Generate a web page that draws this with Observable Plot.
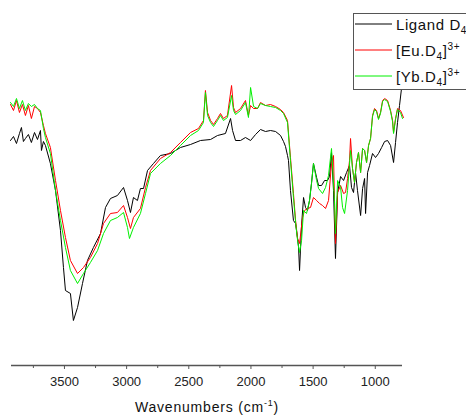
<!DOCTYPE html>
<html>
<head>
<meta charset="utf-8">
<script src="https://cdn.jsdelivr.net/npm/d3@7"></script>
<script src="https://cdn.jsdelivr.net/npm/@observablehq/plot@0.6"></script>
<style>
  html, body { margin: 0; padding: 0; background: #fff; }
  #chart svg { display: block; font-family: "Liberation Sans", Arial, sans-serif; }
</style>
</head>
<body>
<div id="chart"></div>
<script>
// Series names / legend labels
const seriesNames = ["Ligand D4", "[Eu.D4]3+", "[Yb.D4]3+"];
const seriesColors = ["#000000", "#ff0000", "#00f000"];

// Axis ticks (wavenumbers, cm-1)
const majorTicks = [3500, 3000, 2500, 2000, 1500, 1000];
const minorTicks = [3750, 3250, 2750, 2250, 1750, 1250];
const xDomain = [3926, 781];

// Ligand D4 (black)
const wnLigand = [3934,3910,3886,3862,3846,3830,3814,3790,3766,3741,3717,3693,3685,3669,3653,3613,3572,3532,3508,3492,3452,3428,3395,3355,3315,3267,3210,3170,3130,3074,3025,2993,2969,2945,2913,2889,2864,2832,2784,2728,2647,2567,2486,2406,2325,2269,2205,2164,2148,2124,2084,2044,2003,1963,1923,1883,1843,1802,1762,1738,1722,1706,1698,1682,1658,1641,1625,1617,1609,1593,1577,1561,1545,1529,1513,1497,1472,1456,1432,1408,1384,1368,1352,1336,1320,1303,1279,1255,1231,1207,1191,1175,1159,1143,1118,1102,1086,1078,1062,1046,1022,998,974,949,925,901,877,853,837,821,805,789];
const tLigand = [45.0,45.8,44.4,46.4,47.6,44.8,45.4,46.2,44.6,46.6,45.2,47.0,43.0,44.8,44.0,40.4,35.0,27.0,19.6,15.0,14.4,9.0,11.6,16.4,21.0,23.6,26.4,31.6,33.4,34.0,35.6,33.0,30.6,33.6,33.0,35.4,35.4,39.0,40.4,42.0,42.4,43.6,44.2,45.0,45.2,46.0,46.4,49.4,47.0,45.0,45.0,45.6,45.0,46.2,47.2,46.8,47.0,46.8,46.0,44.8,43.8,42.0,41.0,35.0,29.0,28.4,25.4,23.6,19.0,28.0,33.6,31.6,31.0,33.0,36.4,40.4,37.6,36.0,36.0,37.0,37.0,37.8,42.6,35.0,21.4,34.6,37.8,37.0,38.6,40.0,35.6,34.6,38.6,35.0,30.0,35.4,37.4,30.4,38.6,40.0,42.4,41.6,42.4,43.6,44.8,45.0,44.0,40.6,44.6,48.6,52.0,55.4];

// [Eu.D4]3+ (red)
const wnEu = [3934,3910,3886,3862,3838,3814,3790,3766,3741,3717,3693,3669,3653,3613,3572,3532,3492,3452,3395,3347,3291,3234,3186,3130,3074,3025,2993,2969,2945,2889,2848,2808,2728,2647,2567,2486,2422,2382,2366,2349,2325,2301,2269,2245,2221,2189,2156,2140,2124,2084,2044,2020,2003,1979,1947,1923,1883,1843,1802,1762,1738,1706,1682,1658,1641,1625,1609,1585,1569,1545,1521,1497,1472,1448,1424,1400,1376,1352,1336,1320,1303,1279,1255,1239,1223,1207,1199,1183,1167,1151,1135,1118,1102,1086,1070,1054,1038,1022,1006,990,974,958,941,925,901,877,861,853,837,821,797,773];
const tEu = [52.2,51.0,53.0,50.6,52.2,50.0,52.0,49.4,51.8,51.4,50.6,48.0,46.4,43.6,37.0,31.0,25.6,21.0,18.4,19.6,21.6,24.4,28.4,30.4,30.6,32.0,29.6,27.4,29.6,31.4,35.6,39.0,41.4,42.6,44.6,46.6,47.4,49.0,55.0,50.6,49.0,48.2,49.4,50.4,49.4,50.0,56.0,51.6,50.6,51.4,53.0,50.0,52.0,51.4,51.4,52.6,52.0,52.2,51.8,51.2,50.6,49.0,41.6,34.4,29.0,25.4,24.4,29.6,31.0,31.4,31.6,33.6,33.0,32.4,32.0,31.4,33.0,40.4,42.0,24.4,34.6,36.0,34.4,34.6,37.4,41.0,45.4,39.4,36.6,40.6,42.6,38.6,43.4,43.0,40.6,44.0,45.4,50.0,51.4,51.0,49.4,50.6,53.0,53.4,53.0,51.0,49.0,46.6,49.4,51.4,51.0,49.6];

// [Yb.D4]3+ (green)
const wnYb = [3934,3910,3886,3862,3838,3814,3790,3766,3741,3717,3693,3669,3653,3613,3572,3532,3492,3452,3395,3347,3291,3234,3186,3130,3074,3025,2993,2977,2945,2889,2848,2808,2728,2647,2567,2486,2422,2382,2366,2349,2325,2301,2269,2245,2221,2189,2156,2140,2124,2084,2044,2020,2003,1979,1947,1923,1883,1843,1802,1762,1738,1706,1682,1658,1641,1625,1609,1593,1577,1553,1529,1513,1497,1472,1456,1424,1400,1376,1352,1328,1320,1303,1279,1263,1247,1223,1199,1183,1167,1151,1135,1118,1102,1086,1070,1054,1038,1022,1006,990,974,958,941,925,901,877,861,853,837,821,797,781];
const tYb = [52.6,51.8,53.4,51.4,53.0,51.0,52.4,51.8,52.2,51.4,51.0,47.4,45.6,42.4,35.0,29.0,23.6,19.0,16.4,18.4,20.6,23.0,26.4,29.0,29.6,30.6,27.6,25.4,27.6,30.4,34.4,38.4,40.4,42.0,44.0,46.0,47.0,48.6,54.6,50.0,48.6,47.8,49.0,50.0,49.0,49.6,54.0,51.0,50.2,51.0,52.6,49.6,55.6,51.8,51.4,52.4,52.0,51.8,51.6,51.0,50.4,48.6,41.0,33.6,28.6,25.0,22.6,25.0,31.0,30.4,33.0,36.4,40.4,37.0,35.4,34.4,35.6,38.0,43.4,33.0,26.4,37.0,35.6,31.6,30.4,35.0,43.0,39.4,36.6,40.6,42.6,38.6,43.4,43.0,40.6,44.0,45.4,49.8,51.2,50.8,49.2,50.4,52.8,53.2,52.8,50.8,48.8,46.4,49.2,51.2,50.6,49.4];

const toRows = (wn, t) => wn.map((w, i) => ({w, t: t[i]}));

const plot = Plot.plot({
  width: 466,
  height: 418,
  marginLeft: 11,
  marginRight: 64,
  marginTop: 15,
  marginBottom: 53,
  x: {domain: xDomain},
  y: {domain: [0, 70], axis: null},
  marks: [
    Plot.line(toRows(wnLigand, tLigand), {x: "w", y: "t", stroke: seriesColors[0], strokeWidth: 1}),
    Plot.line(toRows(wnEu, tEu), {x: "w", y: "t", stroke: seriesColors[1], strokeWidth: 1}),
    Plot.line(toRows(wnYb, tYb), {x: "w", y: "t", stroke: seriesColors[2], strokeWidth: 1}),
    Plot.ruleY([0], {stroke: "#555", strokeWidth: 1.5}),
    Plot.axisX({ticks: majorTicks, tickSize: 4, tickPadding: 7, fontSize: 13, label: null, stroke: "#555", fill: "#222", tickFormat: d => String(d)}),
    Plot.axisX({ticks: minorTicks, tickSize: 3, label: null, stroke: "#555", tickFormat: () => ""})
  ]
});

document.getElementById("chart").appendChild(plot);

const svg = d3.select(plot);
// x-axis title
const title = svg.append("text")
  .attr("x", 207).attr("y", 412)
  .attr("text-anchor", "middle")
  .attr("font-size", 14)
  .style("letter-spacing", "0.8px")
  .attr("fill", "#111");
title.append("tspan").text("Wavenumbers (cm");
title.append("tspan").attr("font-size", 9).attr("dy", -6).text("-1");
title.append("tspan").attr("dy", 6).text(")");

// legend
const lg = svg.append("g").attr("text-anchor", "start");
lg.append("rect").attr("x", 353.5).attr("y", 13.5).attr("width", 140).attr("height", 76)
  .attr("fill", "#fff").attr("stroke", "#555").attr("stroke-width", 1);
const rows = [
  {base: "Ligand D", sub: "4", tail: "", sup: ""},
  {base: "[Eu.D", sub: "4", tail: "]", sup: "3+"},
  {base: "[Yb.D", sub: "4", tail: "]", sup: "3+"}
];
rows.forEach((r, i) => {
  const cy = 24 + i * 26;
  lg.append("line").attr("x1", 355).attr("x2", 392).attr("y1", cy).attr("y2", cy)
    .attr("stroke", seriesColors[i]).attr("stroke-width", 1);
  const t = lg.append("text").attr("x", 396).attr("y", cy + 6)
    .attr("text-anchor", "start")
    .attr("font-size", 15).style("letter-spacing", "0.6px").attr("fill", "#111");
  t.append("tspan").text(r.base);
  t.append("tspan").attr("font-size", 10).attr("dy", 4).text(r.sub);
  if (r.tail) t.append("tspan").attr("dy", -4).text(r.tail);
  if (r.sup) t.append("tspan").attr("font-size", 10).attr("dy", -6).text(r.sup);
});
</script>
</body>
</html>
